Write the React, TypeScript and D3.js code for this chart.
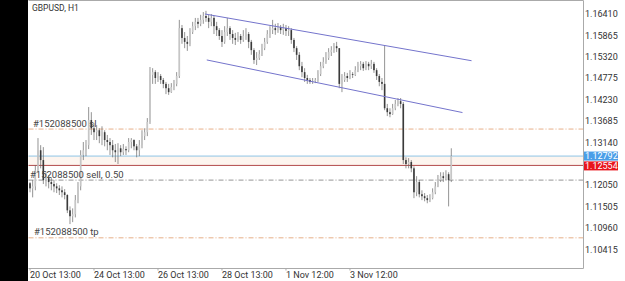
import React from 'react';
import * as d3 from 'd3';

const W = 625;
const H = 281;

const symbolTitle = 'GBPUSD, H1';
const firstOpen = 1.121;
const closes = [
  1.1197, 1.1202, 1.1243, 1.1294, 1.1269, 1.1218, 1.1223, 1.1213, 1.1208, 1.1202,
  1.1197, 1.1192, 1.1187, 1.118, 1.1141, 1.1126, 1.1131, 1.1167, 1.1202, 1.1282,
  1.1294, 1.1307, 1.1371, 1.135, 1.134, 1.1345, 1.133, 1.134, 1.132, 1.1315,
  1.1307, 1.1294, 1.1289, 1.1299, 1.1289, 1.1297, 1.1294, 1.1315, 1.132, 1.1304,
  1.1294, 1.1307, 1.133, 1.134, 1.1366, 1.1486, 1.1493, 1.1478, 1.1483, 1.1473,
  1.1463, 1.1452, 1.1442, 1.1455, 1.1463, 1.1483, 1.1605, 1.158, 1.157, 1.1565,
  1.1595, 1.161, 1.1621, 1.1616, 1.1626, 1.1636, 1.1631, 1.1621, 1.1631, 1.161,
  1.16, 1.1585, 1.157, 1.1595, 1.1605, 1.159, 1.158, 1.1575, 1.1585, 1.1575,
  1.1585, 1.159, 1.157, 1.1549, 1.1524, 1.1529, 1.1539, 1.1554, 1.157, 1.159,
  1.16, 1.1605, 1.16, 1.1608, 1.16, 1.1605, 1.1598, 1.16, 1.1575, 1.1554,
  1.1537, 1.1508, 1.1493, 1.1478, 1.1473, 1.1468, 1.147, 1.1473, 1.1488, 1.1508,
  1.1519, 1.1529, 1.1544, 1.1549, 1.1559, 1.1554, 1.1463, 1.1473, 1.1483, 1.1478,
  1.1488, 1.1486, 1.1498, 1.1508, 1.1514, 1.1503, 1.1514, 1.1508, 1.1514, 1.1498,
  1.1483, 1.1468, 1.1463, 1.1401, 1.1391, 1.1386, 1.1401, 1.1412, 1.1419, 1.1412,
  1.1269, 1.1259, 1.1264, 1.1248, 1.1187, 1.1213, 1.1182, 1.1177, 1.1172, 1.1167,
  1.1172, 1.1187, 1.1202, 1.1218, 1.1228, 1.1223, 1.1233, 1.1218, 1.12792,
];
const highs = [
  1.1213, 1.1218, 1.1256, 1.1325, 1.1307, 1.1302, 1.1238, 1.1231, 1.1223, 1.1218,
  1.121, 1.1205, 1.1202, 1.1195, 1.1182, 1.1151, 1.1146, 1.118, 1.1213, 1.1294,
  1.1315, 1.132, 1.1404, 1.1391, 1.1363, 1.1358, 1.135, 1.1355, 1.1345, 1.1333,
  1.1325, 1.132, 1.131, 1.1312, 1.1307, 1.131, 1.1304, 1.1325, 1.1325, 1.1322,
  1.131, 1.132, 1.1345, 1.135, 1.1376, 1.1506, 1.1503, 1.1498, 1.1493, 1.1488,
  1.1478, 1.1468, 1.1463, 1.1465, 1.1473, 1.1493, 1.1626, 1.1613, 1.1595, 1.1585,
  1.1605, 1.1621, 1.1631, 1.1631, 1.1639, 1.1646, 1.1649, 1.1639, 1.1641, 1.1636,
  1.1621, 1.1605, 1.16, 1.161, 1.1631, 1.161, 1.16, 1.1593, 1.1595, 1.159,
  1.16, 1.1605, 1.1595, 1.1575, 1.1554, 1.1544, 1.1549, 1.1565, 1.158, 1.16,
  1.161, 1.1626, 1.1616, 1.1618, 1.1613, 1.1616, 1.1613, 1.161, 1.1605, 1.158,
  1.1559, 1.1544, 1.1519, 1.1503, 1.1486, 1.1478, 1.1478, 1.1478, 1.1498, 1.1519,
  1.1531, 1.1544, 1.1554, 1.1559, 1.1567, 1.157, 1.1554, 1.1488, 1.1493, 1.1491,
  1.1498, 1.1493, 1.1508, 1.1519, 1.1521, 1.1519, 1.1521, 1.1519, 1.1524, 1.1519,
  1.1503, 1.1488, 1.1478, 1.1562, 1.1412, 1.1401, 1.1412, 1.1422, 1.1427, 1.1427,
  1.1417, 1.1276, 1.1274, 1.1269, 1.1253, 1.1228, 1.1218, 1.1192, 1.1185, 1.118,
  1.1182, 1.1197, 1.1213, 1.1231, 1.1238, 1.1238, 1.1243, 1.1238, 1.1299,
];
const lows = [
  1.1187, 1.1174, 1.1192, 1.1238, 1.1248, 1.1208, 1.1202, 1.1197, 1.1192, 1.1187,
  1.1185, 1.118, 1.1174, 1.1169, 1.1134, 1.1106, 1.1111, 1.1123, 1.1159, 1.1192,
  1.1269, 1.1279, 1.1297, 1.1333, 1.132, 1.132, 1.1312, 1.1307, 1.1304, 1.1294,
  1.1282, 1.1276, 1.1264, 1.1259, 1.1279, 1.1282, 1.1282, 1.1289, 1.1299, 1.1294,
  1.1276, 1.1279, 1.1299, 1.132, 1.133, 1.1361, 1.1463, 1.1463, 1.1468, 1.1463,
  1.1452, 1.1437, 1.1435, 1.144, 1.1447, 1.1457, 1.1478, 1.1565, 1.1554, 1.1547,
  1.1559, 1.159, 1.16, 1.1605, 1.161, 1.1616, 1.1621, 1.1605, 1.161, 1.159,
  1.1585, 1.1575, 1.1557, 1.1565, 1.1585, 1.1575, 1.1565, 1.1562, 1.157, 1.1565,
  1.157, 1.1575, 1.1554, 1.1537, 1.1514, 1.1511, 1.1524, 1.1534, 1.1549, 1.1565,
  1.158, 1.159, 1.1588, 1.1593, 1.159, 1.1588, 1.1585, 1.1585, 1.1565, 1.1544,
  1.1524, 1.1498, 1.148, 1.1468, 1.1463, 1.1463, 1.1463, 1.1465, 1.1468, 1.1483,
  1.1503, 1.1514, 1.1524, 1.1534, 1.1542, 1.1544, 1.1452, 1.1442, 1.1468, 1.1468,
  1.1475, 1.1478, 1.1483, 1.1493, 1.1498, 1.1496, 1.1498, 1.1498, 1.1501, 1.1491,
  1.1473, 1.1457, 1.1447, 1.1396, 1.1381, 1.1378, 1.1384, 1.1396, 1.1406, 1.1401,
  1.1259, 1.1248, 1.1248, 1.1238, 1.1172, 1.1177, 1.1174, 1.1167, 1.1164, 1.1159,
  1.1162, 1.1169, 1.1182, 1.12, 1.1213, 1.1213, 1.1218, 1.1151, 1.1213,
];

const timeLabelIndex = [0, 24, 48, 72, 96, 120];
const timeLabelText = ['20 Oct 13:00', '24 Oct 13:00', '26 Oct 13:00', '28 Oct 13:00', '1 Nov 12:00', '3 Nov 12:00'];
const priceTicks = [1.1641, 1.15865, 1.1532, 1.14775, 1.1423, 1.13685, 1.1314, 1.1205, 1.11505, 1.1096, 1.10415];

const bidPrice = 1.12792;
const redPrice = 1.12554;
const orderId = '#152088500';
const slPrice = 1.1348;
const entryPrice = 1.1218;
const tpPrice = 1.1071;
const channelUpper: [number, number][] = [[65.6, 1.1641], [165.6, 1.1522]];
const channelLower: [number, number][] = [[66.3, 1.1524], [162.2, 1.139]];

const PL = 28.5, PR = 583.5, PT = 0.5, PB = 268.5;

export default function App() {
  const x = d3.scaleLinear().domain([0, 207.4]).range([30, 583]);
  const y = d3.scaleLinear().domain([1.099413, 1.167665]).range([268, 0]);
  const fmt = d3.format('.5f');
  const line = d3.line<[number, number]>().x(d => x(d[0])).y(d => y(d[1]));

  const candles = closes.map((c, i) => {
    const o = i === 0 ? firstOpen : closes[i - 1];
    const h = Math.max(highs[i], o, c);
    const l = Math.min(lows[i], o, c);
    return { i, o, h, l, c };
  });

  const font = 'Roboto, "Noto Sans", sans-serif';
  return (
    <div style={{ position: 'absolute', left: 0, top: 0 }}>
      <svg width={W} height={H} style={{ display: 'block' }}>
        <rect x={0} y={0} width={W} height={H} fill="#fff" />
        <rect x={PL} y={y(bidPrice)} width={PR - PL} height={y(redPrice) - y(bidPrice)} fill="#fdf5ef" />
        <line x1={PL} x2={PR} y1={y(slPrice)} y2={y(slPrice)} stroke="#e09a6a" strokeWidth={0.8} strokeDasharray="5,2,1,2" />
        <line x1={PL} x2={PR} y1={y(entryPrice)} y2={y(entryPrice)} stroke="#7a7a7a" strokeWidth={0.8} strokeDasharray="5,2,1,2" />
        <line x1={PL} x2={PR} y1={y(tpPrice)} y2={y(tpPrice)} stroke="#e09a6a" strokeWidth={0.8} strokeDasharray="5,2,1,2" />
        <line x1={PL} x2={PR} y1={y(bidPrice)} y2={y(bidPrice)} stroke="#8ec4e6" strokeWidth={1} />
        <line x1={PL} x2={PR} y1={y(redPrice)} y2={y(redPrice)} stroke="#b24a4a" strokeWidth={1} />
        <g>
          {candles.map(d => {
            const cx = x(d.i);
            const top = y(Math.max(d.o, d.c));
            const bot = y(Math.min(d.o, d.c));
            const bull = d.c >= d.o;
            return (
              <g key={d.i}>
                <line x1={cx} x2={cx} y1={y(d.h)} y2={y(d.l)} stroke="#666" strokeWidth={0.7} />
                <rect x={cx - 0.8} y={top} width={1.6} height={Math.max(0.8, bot - top)} fill={bull ? '#c6c6c6' : '#3a3a3a'} />
              </g>
            );
          })}
        </g>
        <path d={line(channelUpper) || ''} stroke="#7474cc" strokeWidth={1} fill="none" />
        <path d={line(channelLower) || ''} stroke="#7474cc" strokeWidth={1} fill="none" />
        <text x={33} y={y(slPrice) - 2} fontFamily={font} fontSize={9.5} fill="#444">{orderId} sl</text>
        <text x={30} y={y(entryPrice) - 2.5} fontFamily={font} fontSize={9.5} fill="#444">{orderId} sell, 0.50</text>
        <text x={34} y={y(tpPrice) - 2.5} fontFamily={font} fontSize={9.5} fill="#444">{orderId} tp</text>
        <text x={32} y={11} fontFamily={font} fontSize={8.5} fill="#333">{symbolTitle}</text>
        <line x1={PL} x2={PR} y1={PT} y2={PT} stroke="#aaa" strokeWidth={1} />
        <line x1={PL} x2={PR} y1={PB} y2={PB} stroke="#aaa" strokeWidth={1} />
        <line x1={PR} x2={PR} y1={PT} y2={PB} stroke="#aaa" strokeWidth={1} />
        {priceTicks.map(p => (
          <text key={p} x={585} y={y(p)} dy="0.35em" fontFamily={font} fontSize={9} fill="#333">{fmt(p)}</text>
        ))}
        <rect x={584} y={y(bidPrice) - 4.5} width={34} height={9} fill="#4a9ee8" />
        <text x={585} y={y(bidPrice)} dy="0.35em" fontFamily={font} fontSize={9} fill="#fff">{fmt(bidPrice)}</text>
        <rect x={584} y={y(redPrice) - 4} width={34} height={9} fill="#e8141c" />
        <text x={585} y={y(redPrice) + 0.5} dy="0.35em" fontFamily={font} fontSize={9} fill="#fff">{fmt(redPrice)}</text>
        {timeLabelIndex.map((idx, k) => (
          <g key={idx}>
            <line x1={x(idx)} x2={x(idx)} y1={PB} y2={PB + 2} stroke="#aaa" strokeWidth={1} />
            <text x={x(idx)} y={278} fontFamily={font} fontSize={9} fill="#333">{timeLabelText[k]}</text>
          </g>
        ))}
        <rect x={0} y={0} width={28} height={H} fill="#000" />
      </svg>
    </div>
  );
}
